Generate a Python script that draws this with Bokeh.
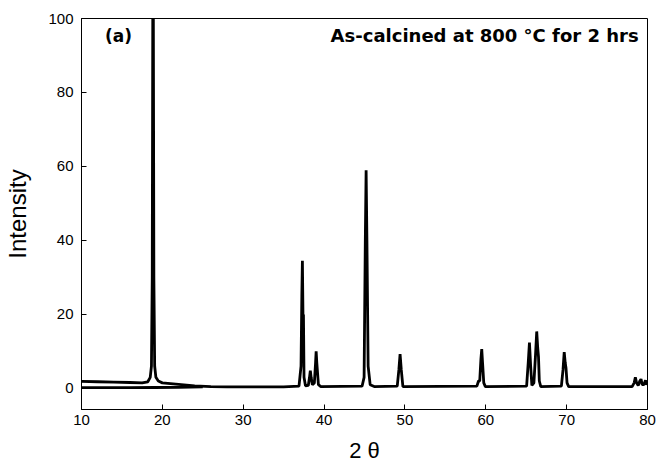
from bokeh.plotting import figure
from bokeh.models import Range1d, Label, FixedTicker
from bokeh.embed import file_html
from bokeh.resources import INLINE

# Main XRD scan (2theta, intensity)
two_theta = [10, 12, 14, 16, 17.5, 18.2, 18.5, 18.65, 18.75, 18.85, 18.95, 19.05, 19.2, 19.5,
             20, 22, 24, 26, 28, 30, 35, 36.9, 37.15, 37.25, 37.32, 37.4, 37.45, 37.52, 37.7,
             38.05, 38.2, 38.3, 38.4, 38.55, 38.8, 38.95, 39.02, 39.1, 39.3, 39.6,
             44.7, 44.95, 45.1, 45.2, 45.3, 45.45, 45.7, 46.2,
             49.05, 49.25, 49.4, 49.55, 49.75,
             58.9, 59.1, 59.25, 59.4, 59.5, 59.6, 59.75, 59.95,
             65.05, 65.25, 65.4, 65.55, 65.7, 65.95, 66.15, 66.3, 66.42, 66.52, 66.62, 66.8,
             69.35, 69.55, 69.7, 69.82, 69.92, 70.05, 70.25,
             78.1, 78.35, 78.5, 78.65, 78.85, 79.05, 79.2, 79.35, 79.55, 79.75, 79.9, 80]
intensity = [1.9, 1.8, 1.7, 1.6, 1.5, 1.8, 3.0, 6.0, 30, 140, 30, 6.0, 3.0, 2.0,
             1.5, 1.1, 0.7, 0.5, 0.4, 0.4, 0.4, 0.6, 6.0, 25, 34.5, 18, 20, 3.0, 0.7,
             0.8, 3.0, 4.8, 3.0, 1.0, 1.5, 7.0, 10.0, 7.0, 1.0, 0.5,
             0.6, 3.0, 40, 59, 40, 6.0, 1.0, 0.5,
             0.6, 5.0, 9.3, 5.0, 0.5,
             0.6, 2.0, 2.0, 8.0, 10.6, 7.0, 1.5, 0.5,
             0.6, 7.0, 12.4, 6.0, 0.8, 1.5, 9.0, 15.4, 11.0, 8.5, 2.0, 0.5,
             0.6, 5.0, 9.8, 7.0, 5.5, 1.5, 0.5,
             0.5, 1.5, 3.0, 1.5, 0.8, 2.0, 2.5, 1.0, 1.0, 2.2, 1.0, 1.5]

# Second, lower trace at the start of the scan
two_theta_low = [10, 13, 16, 19, 22, 25]
intensity_low = [0.2, 0.2, 0.2, 0.25, 0.3, 0.4]

x_ticks = [10, 20, 30, 40, 50, 60, 70, 80]
y_ticks = [0, 20, 40, 60, 80, 100]

p = figure(width=657, height=467, output_backend="svg", toolbar_location=None,
           x_range=Range1d(10, 80), y_range=Range1d(-5.7, 100),
           min_border_left=81, min_border_right=10, min_border_top=18, min_border_bottom=58)

p.line(two_theta_low, intensity_low, line_color="black", line_width=2.8)
p.line(two_theta, intensity, line_color="black", line_width=2.8)

p.grid.visible = False
p.outline_line_color = "black"
p.outline_line_width = 1
p.background_fill_color = "white"
p.border_fill_color = "white"

for ax in (p.xaxis[0], p.yaxis[0]):
    ax.axis_line_color = "black"
    ax.axis_line_width = 1
    ax.major_tick_in = 5
    ax.major_tick_out = 0
    ax.minor_tick_line_color = None
    ax.major_label_text_font = "Liberation Sans"
    ax.major_label_text_font_size = "15px"
    ax.major_label_text_color = "black"
    ax.axis_label_text_font = "Liberation Sans"
    ax.axis_label_text_font_style = "normal"
    ax.axis_label_text_color = "black"

p.xaxis.axis_label_text_font_size = "22px"
p.yaxis.axis_label_text_font_size = "24px"
p.xaxis.ticker = FixedTicker(ticks=x_ticks)
p.yaxis.ticker = FixedTicker(ticks=y_ticks)
p.xaxis.axis_label = "2 θ"
p.yaxis.axis_label = "Intensity"
p.xaxis.major_label_standoff = 5
p.yaxis.major_label_standoff = 8
p.xaxis.axis_label_standoff = 10
p.yaxis.axis_label_standoff = 14

p.add_layout(Label(x=12.9, y=95.4, text="(a)", text_font="DejaVu Sans",
                   text_font_size="17px", text_font_style="bold", text_baseline="middle",
                   text_align="left", text_color="black"))
p.add_layout(Label(x=78.9, y=95.4, text="As-calcined at 800 °C for 2 hrs",
                   text_font="DejaVu Sans", text_font_size="18px", text_font_style="bold",
                   text_baseline="middle", text_align="right", text_color="black"))

open("out.html", "w").write(file_html(p, INLINE))
